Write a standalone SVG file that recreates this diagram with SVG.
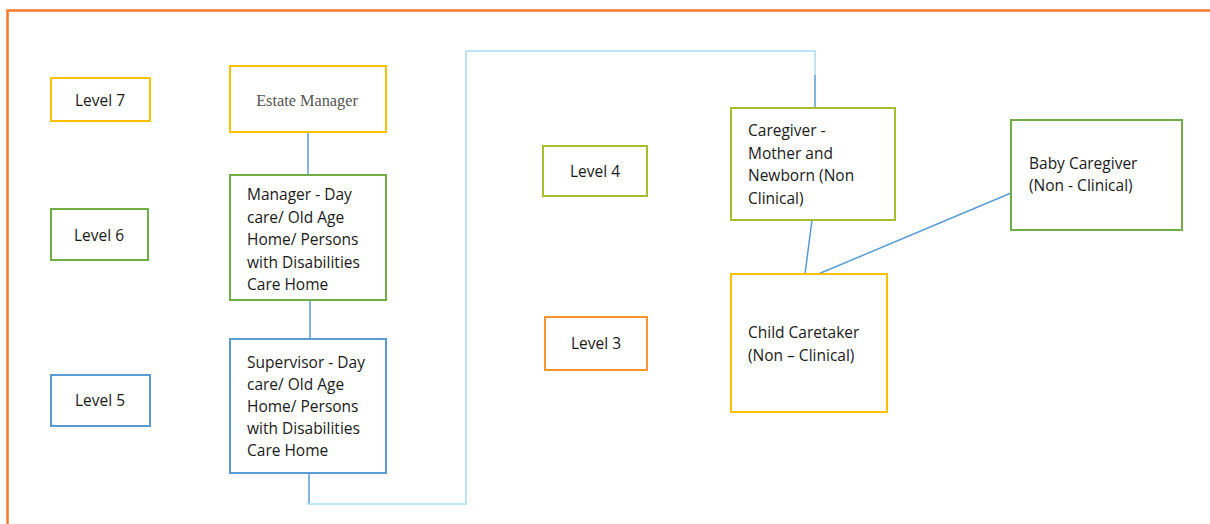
<svg xmlns="http://www.w3.org/2000/svg" width="1210" height="524" viewBox="0 0 1210 524">
<style>
.box{fill:#fff;stroke-width:2}
.yel{stroke:#FFC000}
.grn{stroke:#70AD47}
.blu{stroke:#5B9BD5}
.olv{stroke:#A5BE32}
.org{stroke:#F7962F}
.t{font-family:"Open Sans","Liberation Sans",Arial,sans-serif;font-size:15.5px;fill:#1a1a1a}
.c{text-anchor:middle}
.ln{fill:none;stroke-width:1.5}
.dk{stroke:#5B9BD5}
.lt{stroke:#A9DDF5}
</style>
<rect width="1210" height="524" fill="#fff"/>
<path d="M7.5 524 V10.5 H1210" fill="none" stroke="#F4792B" stroke-width="2.5"/>
<g id="connectors">
<line class="ln dk" x1="308" y1="132" x2="308" y2="175"/>
<line class="ln dk" x1="310" y1="300" x2="310" y2="339"/>
<line class="ln dk" x1="309" y1="473" x2="309" y2="504"/>
<polyline class="ln lt" points="307,504 466,504 466,51 815,51 815,75"/>
<line class="ln dk" x1="815" y1="75" x2="815" y2="108"/>
<line class="ln dk" x1="812" y1="220" x2="805" y2="274"/>
<line class="ln dk" x1="1011" y1="193" x2="816" y2="275"/>
</g>
<g id="level7"><rect class="box yel" x="51" y="78" width="99" height="43"/><text class="t c" x="100" y="106">Level 7</text></g>
<g id="level6"><rect class="box grn" x="51" y="209" width="97" height="51"/><text class="t c" x="99" y="241">Level 6</text></g>
<g id="level5"><rect class="box blu" x="51" y="375" width="99" height="51"/><text class="t c" x="100" y="406">Level 5</text></g>
<g id="level4"><rect class="box olv" x="543" y="146" width="104" height="50"/><text class="t c" x="595" y="177">Level 4</text></g>
<g id="level3"><rect class="box org" x="545" y="317" width="102" height="53"/><text class="t c" x="596" y="349">Level 3</text></g>
<g id="estate-manager"><rect class="box yel" x="230" y="66" width="156" height="66"/><text x="307" y="106" text-anchor="middle" font-family="'Liberation Serif','Times New Roman',serif" font-size="16.3" fill="#555">Estate Manager</text></g>
<g id="manager"><rect class="box grn" x="230" y="175" width="156" height="125"/>
<text class="t" x="247" y="200">Manager - Day</text>
<text class="t" x="247" y="222.5">care/ Old Age</text>
<text class="t" x="247" y="245">Home/ Persons</text>
<text class="t" x="247" y="267.5">with Disabilities</text>
<text class="t" x="247" y="290">Care Home</text></g>
<g id="supervisor"><rect class="box blu" x="230" y="339" width="156" height="134"/>
<text class="t" x="247" y="368">Supervisor - Day</text>
<text class="t" x="247" y="390">care/ Old Age</text>
<text class="t" x="247" y="412">Home/ Persons</text>
<text class="t" x="247" y="434">with Disabilities</text>
<text class="t" x="247" y="456">Care Home</text></g>
<g id="caregiver"><rect class="box olv" x="731" y="108" width="164" height="112"/>
<text class="t" x="748" y="136">Caregiver -</text>
<text class="t" x="748" y="159">Mother and</text>
<text class="t" x="748" y="181">Newborn (Non</text>
<text class="t" x="748" y="204">Clinical)</text></g>
<g id="baby-caregiver"><rect class="box grn" x="1011" y="120" width="171" height="110"/>
<text class="t" x="1029" y="169">Baby Caregiver</text>
<text class="t" x="1029" y="191">(Non - Clinical)</text></g>
<g id="child-caretaker"><rect class="box yel" x="731" y="274" width="156" height="138"/>
<text class="t" x="748" y="338">Child Caretaker</text>
<text class="t" x="748" y="361">(Non – Clinical)</text></g>
</svg>
